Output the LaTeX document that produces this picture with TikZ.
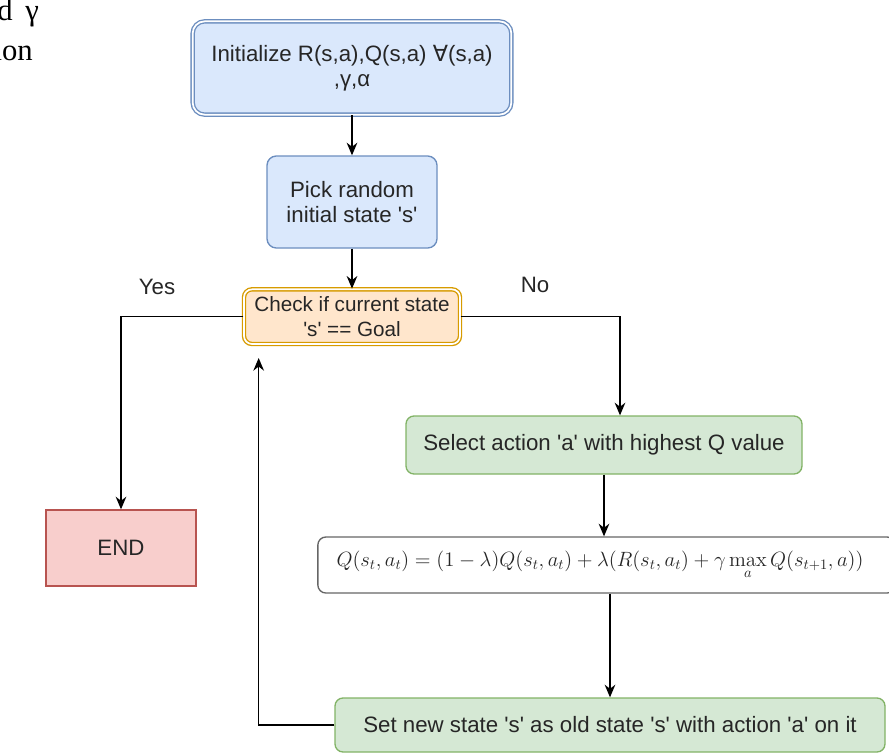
\RequirePackage{fix-cm}
\documentclass[tikz,border=0pt]{standalone}
\usepackage{amsmath}
\usepackage[no-math]{fontspec}
\setmainfont{Liberation Sans}[Ligatures=TeXOff]
\newfontfamily\serifpart{Liberation Serif}
\newfontfamily\symfont{DejaVu Sans}
\usepackage{xcolor}
\usepackage{tikz}
\usetikzlibrary{arrows.meta,positioning}

\definecolor{bluefill}{HTML}{DAE8FC}
\definecolor{blueline}{HTML}{6C8EBF}
\definecolor{orangefill}{HTML}{FFE6CC}
\definecolor{orangeline}{HTML}{D79B00}
\definecolor{greenfill}{HTML}{D5E8D4}
\definecolor{greenline}{HTML}{82B366}
\definecolor{redfill}{HTML}{F8CECC}
\definecolor{redline}{HTML}{B85450}
\definecolor{grayfill}{HTML}{FFFFFF}
\definecolor{grayline}{HTML}{666666}

\newcommand\boxtext{\fontsize{16.7}{19}\selectfont}
\newcommand\smallboxtext{\fontsize{15.5}{18.5}\selectfont}
\newcommand\formulatext{\fontsize{15.5}{18}\selectfont}

\begin{document}
\begin{tikzpicture}[
    x=0.75pt, y=-0.75pt,
    box/.style={draw=#1line, fill=#1fill, rounded corners=7pt, line width=1pt,
                inner sep=0pt, align=center, font=\boxtext, text=black!85},
    box/.default=blue,
    dbox/.style={box=#1, line width=1pt, double=white, double distance=1.3pt},
    arrow/.style={-{Stealth[length=9.5pt, width=8pt]}, line width=1pt, draw=black},
    branch/.style={font=\boxtext, text=black!85},
    fragment/.style={font=\serifpart\fontsize{23}{23}\selectfont, inner sep=0pt},
]
\useasboundingbox (0,0) rectangle (889,753);

% Text cut off at the page corner
\node[fragment, anchor=base west] (frag1) at (-3,20) {d\hspace{9.5pt}γ};
\node[fragment, anchor=base east] (frag2) at (33,60) {ion};

% Start
\node[dbox=blue, rounded corners=9pt, minimum width=239pt, minimum height=70pt] (init) at (352,68)
    {Initialize R(s,a),Q(s,a) {\symfont ∀}(s,a)\\,γ,α};
\node[box=blue, minimum width=127.5pt, minimum height=69pt, below=30pt of init] (pick)
    {Pick random\\initial state 's'};
\node[dbox=orange, rounded corners=6pt, minimum width=162pt, minimum height=41pt, below=30pt of pick,
      font=\smallboxtext] (check)
    {Check if current state\\'s' == Goal};

% Branches
\node[box=red, rounded corners=0pt, minimum width=112.5pt, minimum height=57pt] (end) at (121,548) {END};
\node[box=green, rounded corners=6pt, minimum width=297pt, minimum height=43.5pt] (select) at (604,445)
    {Select action 'a' with highest Q value};
\node[box=gray, rounded corners=6pt, text width=405pt, inner xsep=14pt, align=left, minimum height=42pt,
      font=\formulatext] (update) at (606.5,565)
    {$Q(s_t,a_t)=(1-\lambda)Q(s_t,a_t)+\lambda(R(s_t,a_t)+\gamma\max\limits_{a}Q(s_{t+1},a))$};
\node[box=green, rounded corners=6pt, minimum width=412.5pt, minimum height=40.5pt] (set) at (610,725)
    {Set new state 's' as old state 's' with action 'a' on it};

% Arrows
\coordinate (turn) at ([xshift=12pt]select.north);
\coordinate (loopin) at ([xshift=-70pt, yshift=-10pt]check.south);
\draw[arrow] (init) -- (pick);
\draw[arrow] (pick) -- (check);
\draw[arrow] (check.west) -| (end.north);
\draw[arrow] (check.east) -| (turn);
\draw[arrow] (select.south) -- (select.south |- update.north);
\draw[arrow] (update.south -| set.north) -- (set.north);
\draw[arrow] (set.west) -| (loopin);

% Labels
\node[branch] (yes) at (157,287) {Yes};
\node[branch] (no) at (535,285) {No};
\end{tikzpicture}
\end{document}
